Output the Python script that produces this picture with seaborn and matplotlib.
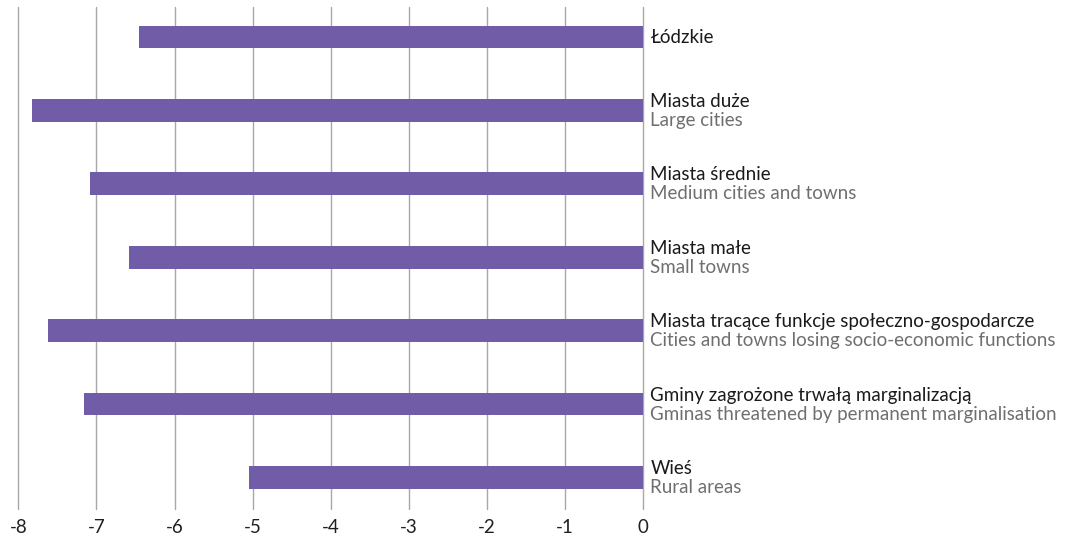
import matplotlib
matplotlib.use("Agg")
import matplotlib.pyplot as plt
import matplotlib.transforms as mtransforms
import seaborn as sns
import pandas as pd

# --- data ---
labels_pl = ["Łódzkie", "Miasta duże", "Miasta średnie", "Miasta małe",
             "Miasta tracące funkcje społeczno-gospodarcze",
             "Gminy zagrożone trwałą marginalizacją", "Wieś"]
labels_en = ["", "Large cities", "Medium cities and towns", "Small towns",
             "Cities and towns losing socio-economic functions",
             "Gminas threatened by permanent marginalisation", "Rural areas"]
values = [-6.45, -7.82, -7.08, -6.58, -7.62, -7.16, -5.05]
xticks = [-8, -7, -6, -5, -4, -3, -2, -1, 0]

sns.set_style("white")
plt.rcParams['font.family'] = ['Lato', 'DejaVu Sans']
plt.rcParams['axes.unicode_minus'] = False

df = pd.DataFrame({"cat": labels_pl, "val": values})

W, H = 1069, 539
fig = plt.figure(figsize=(W / 100, H / 100), dpi=100)
ax = fig.add_axes([18.3 / W, (H - 509) / H, (643.3 - 18.3) / W, (509 - 7) / H])

sns.barplot(data=df, y="cat", x="val", orient="h", color="#715ca8",
            saturation=1, width=0.31, linewidth=0, ax=ax)

ax.set_xlim(xticks[0], xticks[-1])
ax.set_ylim(6.43, -0.41)
ax.set_xticks(xticks)
ax.set_xticklabels([str(t) for t in xticks])
ax.set_xlabel("")
ax.set_ylabel("")
ax.tick_params(axis="y", left=False, labelleft=False)
ax.tick_params(axis="x", length=0, pad=7, labelsize=13.5, labelcolor="#231f20")
for s in ax.spines.values():
    s.set_visible(False)
ax.set_axisbelow(True)
ax.xaxis.grid(True, color="#a8a8a8", lw=1.0)
for gl in ax.get_xgridlines():
    gl.set_clip_on(False)

tr_single = mtransforms.offset_copy(ax.transData, fig=fig, x=7, y=0, units="dots")
tr_top = mtransforms.offset_copy(ax.transData, fig=fig, x=7, y=3.5, units="dots")
tr_bot = mtransforms.offset_copy(ax.transData, fig=fig, x=7, y=-15.5, units="dots")
fs = 13.5
for i, (pl, en) in enumerate(zip(labels_pl, labels_en)):
    if en:
        ax.text(0, i, pl, transform=tr_top, ha="left", va="baseline",
                fontsize=fs, color="#1a1a1a", clip_on=False)
        ax.text(0, i, en, transform=tr_bot, ha="left", va="baseline",
                fontsize=fs, color="#6f6f6f", clip_on=False)
    else:
        ax.text(0, i, pl, transform=tr_single, ha="left", va="center",
                fontsize=fs, color="#1a1a1a", clip_on=False)

fig.savefig("out.png", dpi=100)
